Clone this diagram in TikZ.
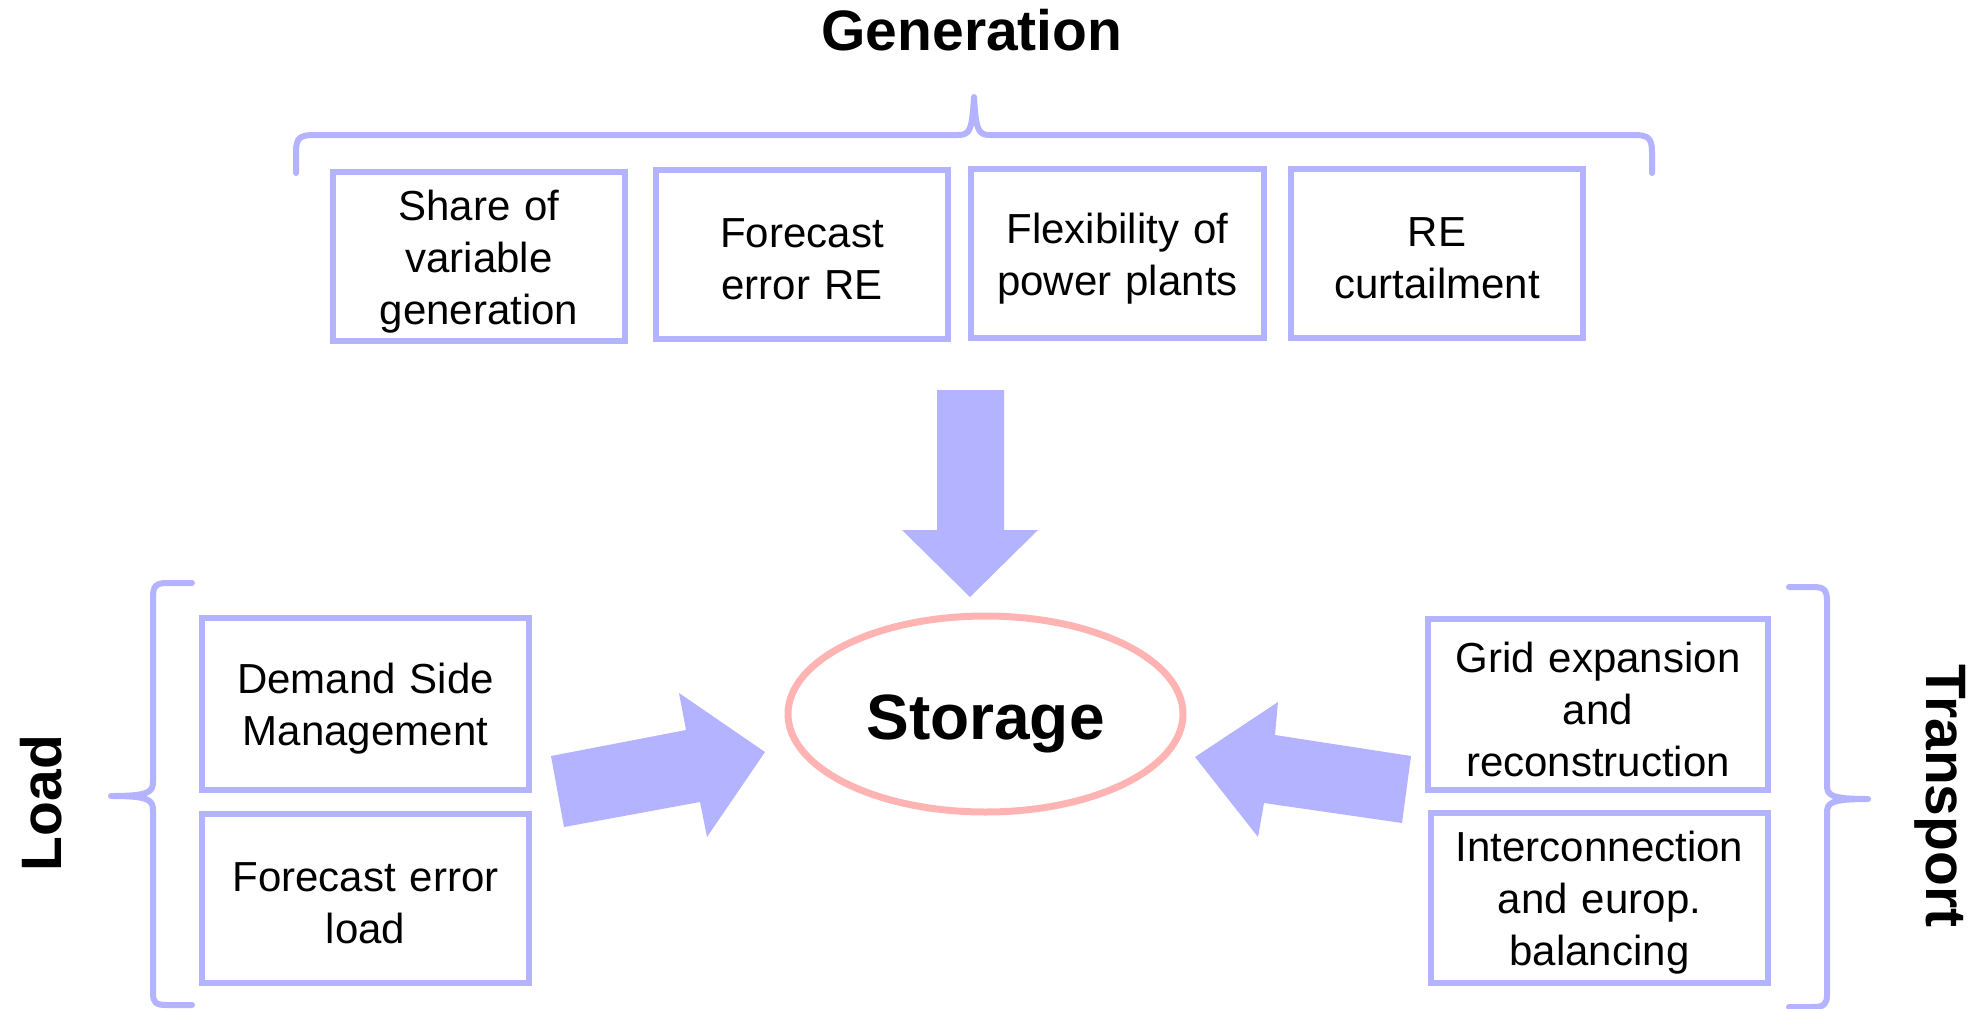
\documentclass[tikz,border=0pt]{standalone}
\usepackage{fontspec}
\setmainfont{Liberation Sans}
\usetikzlibrary{shapes.geometric}
\definecolor{lav}{HTML}{B3B3FF}
\definecolor{pinkc}{HTML}{FFB3B3}
\tikzset{
  factor/.style={draw=lav, line width=6pt, rectangle, inner sep=0pt},
  factortext/.style={inner sep=0pt, align=center, text width=320pt,
     font=\fontsize{42}{52}\selectfont, yshift=-5pt},
  brace/.style={draw=lav, line width=6pt, line cap=round, line join=round},
  blockarrow/.style={fill=lav, draw=none},
  title/.style={font=\fontsize{57}{60}\selectfont\bfseries, inner sep=0pt, anchor=base}
}
\begin{document}
\begin{tikzpicture}[x=1pt, y=-1pt]
\useasboundingbox (0,0) rectangle (1978,1009);

% Generation
\node[title] (gen) at (972,50) {Generation};
\draw[brace] (296,173) -- (296,152) .. controls (296,138) and (300,135) .. (314,135)
  -- (958,135) .. controls (970,135) and (972,130) .. (974,97)
  .. controls (976,130) and (978,135) .. (990,135)
  -- (1634,135) .. controls (1648,135) and (1652,138) .. (1652,152) -- (1652,173);

\node[factor, minimum width=292pt, minimum height=169pt] (g1) at (479,256.5) {};
\node[factortext] (g1t) at (g1.center) {Share of\\variable\\generation};
\node[factor, minimum width=292pt, minimum height=169pt] (g2) at (802,254.5) {};
\node[factortext] (g2t) at (g2.center) {Forecast\\error RE};
\node[factor, minimum width=293pt, minimum height=169pt] (g3) at (1117.5,253.5) {};
\node[factortext] (g3t) at (g3.center) {Flexibility of\\power plants};
\node[factor, minimum width=292pt, minimum height=169pt] (g4) at (1437,253.5) {};
\node[factortext] (g4t) at (g4.center) {RE\\curtailment};

% Storage
\node[draw=pinkc, line width=7pt, ellipse, minimum width=395pt, minimum height=196pt, inner sep=0pt] (st) at (985.5,714) {};
\node[font=\fontsize{64}{66}\selectfont\bfseries, inner sep=0pt, anchor=base] (stlabel) at (985.5,739) {Storage};

% Arrows
\fill[blockarrow] (937,390) -- (1004,390) -- (1004,530) -- (1038,530) -- (970,597) -- (902,530) -- (937,530) -- cycle;
\fill[blockarrow] (551,756) -- (686,730) -- (679,693) -- (765,752) -- (707,837) -- (700,802) -- (564,827) -- cycle;
\fill[blockarrow] (1411,756) -- (1275,735) -- (1278,702) -- (1195,757) -- (1258,837) -- (1264,803) -- (1402,823) -- cycle;

% Load
\node[title, rotate=90] (load) at (61,803) {Load};
\draw[brace] (192,583) -- (167,583) .. controls (156,583) and (153,586) .. (153,597)
  -- (153,781) .. controls (153,792) and (150,796) .. (111,796)
  .. controls (150,796) and (153,800) .. (153,811)
  -- (153,993) .. controls (153,1003) and (156,1005) .. (167,1005) -- (192,1005);
\node[factor, minimum width=327pt, minimum height=172pt] (l1) at (365.5,704) {};
\node[factortext] (l1t) at (l1.center) {Demand Side\\Management};
\node[factor, minimum width=327pt, minimum height=169pt] (l2) at (365.5,898.5) {};
\node[factortext] (l2t) at (l2.center) {Forecast error\\load};

% Transport
\node[title, rotate=-90] (trans) at (1926,796) {Transport};
\draw[brace] (1789,587) -- (1813,587) .. controls (1824,587) and (1827,590) .. (1827,601)
  -- (1827,785) .. controls (1827,795) and (1830,799) .. (1868,799)
  .. controls (1830,799) and (1827,803) .. (1827,813)
  -- (1827,995) .. controls (1827,1004) and (1824,1007) .. (1813,1007) -- (1789,1007);
\node[factor, minimum width=340pt, minimum height=171pt] (t1) at (1598,704.5) {};
\node[factortext] (t1t) at (t1.center) {Grid expansion\\and\\reconstruction};
\node[factor, minimum width=337pt, minimum height=170pt] (t2) at (1599.5,898) {};
\node[factortext] (t2t) at (t2.center) {Interconnection\\and europ.\\balancing};
\end{tikzpicture}
\end{document}
